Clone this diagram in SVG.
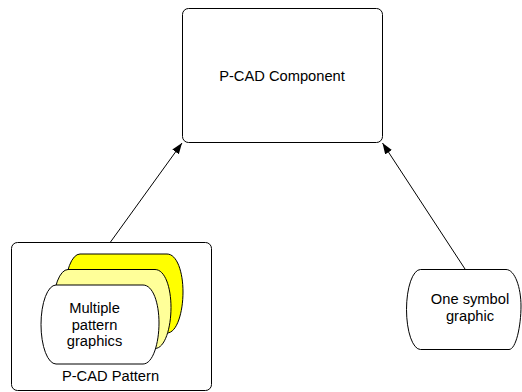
<svg xmlns="http://www.w3.org/2000/svg" width="522" height="392" viewBox="0 0 522 392">
<defs>
<style>
.box{fill:#fff;stroke:#000;stroke-width:1}
.sh{stroke:#000;stroke-width:1}
.t{font-family:"Liberation Sans",Arial,sans-serif;font-size:14.7px;fill:#000;text-anchor:middle}
.c{stroke:#000;stroke-width:1;fill:none}
</style>
<marker id="ah" markerWidth="12" markerHeight="10" refX="11" refY="4" orient="auto" markerUnits="userSpaceOnUse">
<path d="M0,0 L11,4 L0,8 Z" fill="#000"/>
</marker>
<path id="disp" d="M15,0 L102,0 C112,0 118,18 118,38 C118,58 112,79 102,79 L15,79 A15,39.5 0 0 1 15,0 Z"/>
</defs>
<g id="component">
<rect class="box" x="182.5" y="8.5" width="200" height="134" rx="6"/>
<text class="t" x="282" y="80.5">P-CAD Component</text>
</g>
<g id="pattern">
<rect class="box" x="11.5" y="242.5" width="200" height="148" rx="6"/>
<use href="#disp" class="sh" fill="#FFFF00" x="65" y="254"/>
<use href="#disp" class="sh" fill="#FFFF99" x="53" y="269.5"/>
<use href="#disp" class="sh" fill="#FFFFFF" x="41" y="285"/>
<text class="t" x="94.5" y="313">Multiple</text>
<text class="t" x="94.5" y="329.5">pattern</text>
<text class="t" x="94.5" y="346">graphics</text>
<text class="t" x="110.5" y="381">P-CAD Pattern</text>
</g>
<g id="symbol">
<path class="sh" fill="#fff" d="M420.5,269.5 L506,269.5 C515,269.5 521,288 521,306 C521,326 516,349.5 509,349.5 L420.5,349.5 A14,40 0 0 1 420.5,269.5 Z"/>
<text class="t" x="470" y="304">One symbol</text>
<text class="t" x="470" y="321">graphic</text>
</g>
<g id="connectors">
<line class="c" x1="110.5" y1="242" x2="182" y2="143" marker-end="url(#ah)"/>
<line class="c" x1="465" y1="269" x2="382.5" y2="143" marker-end="url(#ah)"/>
</g>
</svg>
